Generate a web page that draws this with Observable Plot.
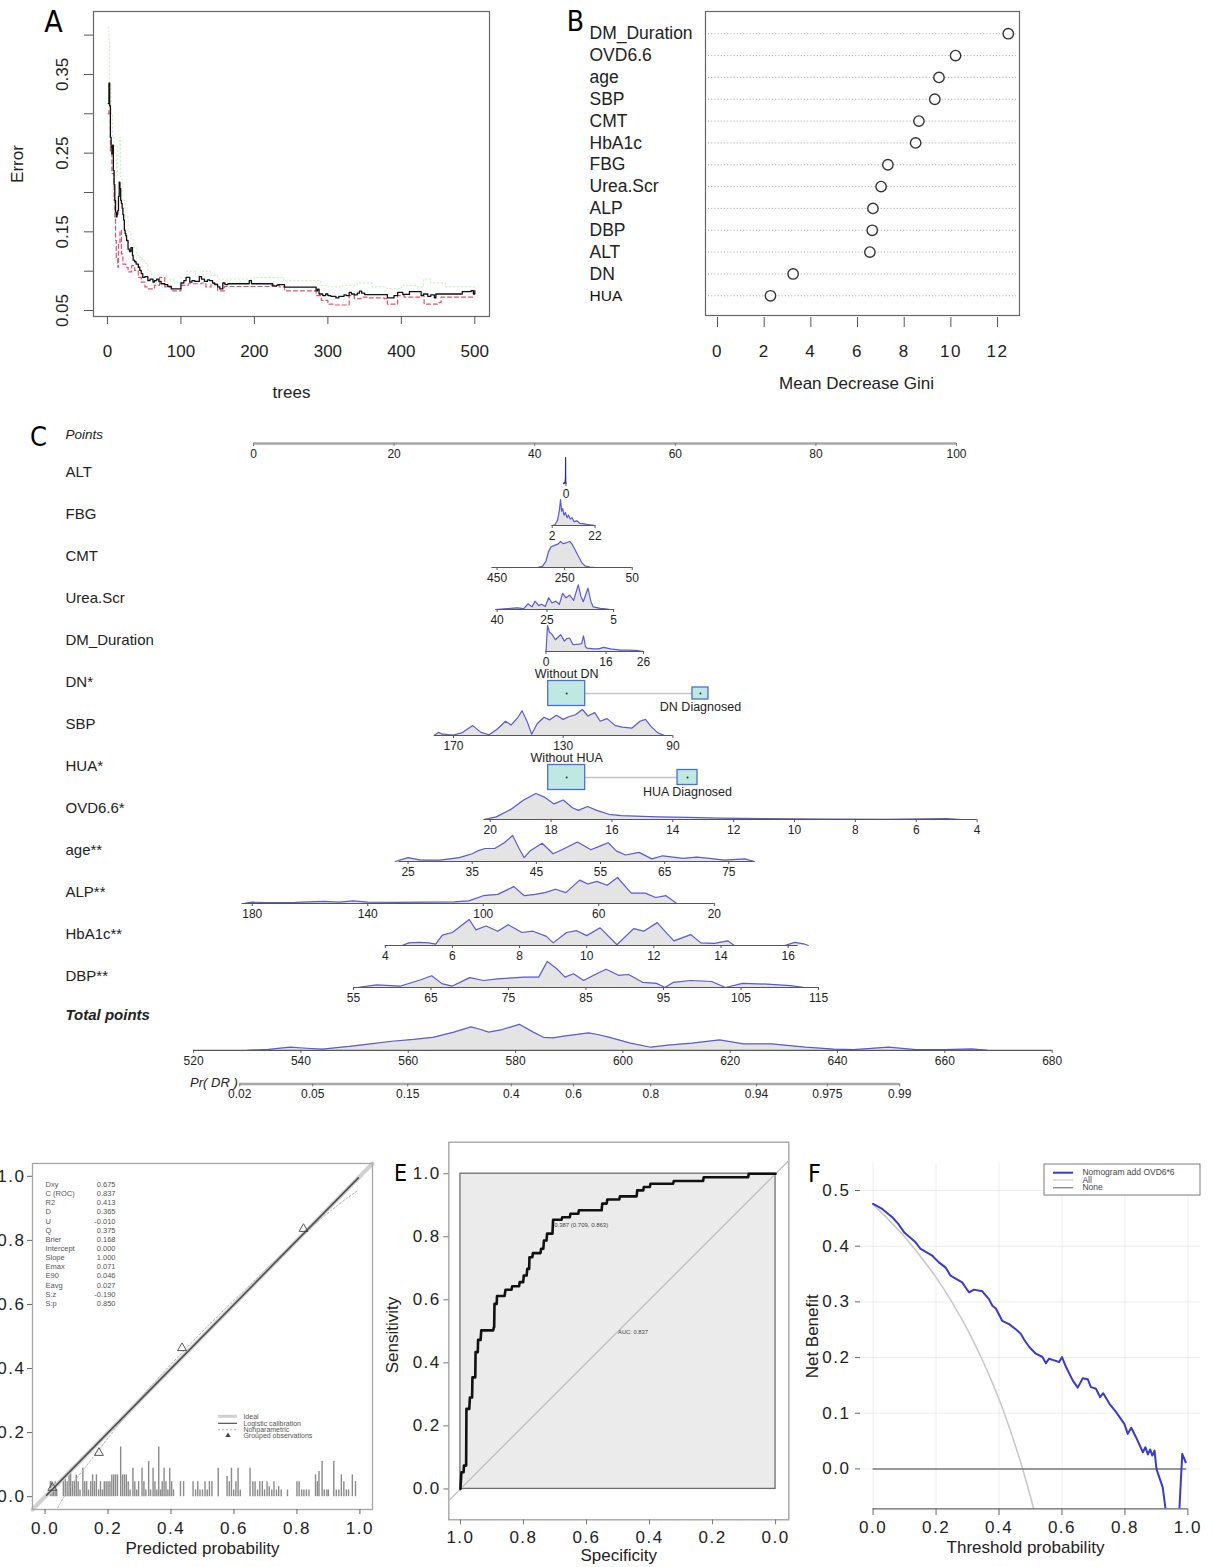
<!DOCTYPE html>
<html>
<head>
<meta charset="utf-8">
<script src="https://cdn.jsdelivr.net/npm/d3@7"></script>
<script src="https://cdn.jsdelivr.net/npm/@observablehq/plot@0.6"></script>
<style>
html,body{margin:0;padding:0;background:#fff;}
#fig{position:relative;width:1213px;height:1567px;overflow:hidden;background:#fff;}
#fig svg{position:absolute;overflow:visible;max-width:none;}
.spaced g[aria-label*="tick label"] text, .spaced g[aria-label="title"] text{letter-spacing:1.5px;}
</style>
</head>
<body>
<div id="fig"></div>
<script>
// ================= Panel A : random forest error vs trees =================
const errOOB = [[1,0.313],[2,0.339],[3,0.31],[4,0.27],[5,0.258],[6,0.249],[7,0.26],[8,0.228],[9,0.21],[10,0.19],[11,0.175],[12,0.169],[13,0.172],[14,0.177],[15,0.195],[16,0.213],[17,0.205],[18,0.19],[19,0.186],[20,0.18],[21,0.172],[22,0.165],[23,0.152],[24,0.148],[25,0.145],[26,0.139],[28,0.128],[30,0.125],[32,0.13],[34,0.12],[35,0.114],[37,0.112],[39,0.109],[42,0.105],[44,0.101],[46,0.097],[48,0.092],[51,0.093],[55,0.088],[58,0.09],[62,0.086],[64,0.088],[67,0.09],[70,0.087],[73,0.084],[78,0.083],[82,0.0805],[87,0.0775],[96,0.0775],[100,0.085],[104,0.088],[107,0.092],[112,0.086],[115,0.088],[119,0.087],[125,0.093],[128,0.09],[132,0.087],[136,0.089],[139,0.088],[143,0.085],[146,0.083],[150,0.08],[153,0.0775],[157,0.085],[160,0.083],[164,0.084],[191,0.084],[193,0.088],[196,0.084],[223,0.084],[225,0.081],[230,0.082],[232,0.083],[241,0.0797],[282,0.0797],[284,0.075],[286,0.077],[288,0.071],[293,0.069],[297,0.071],[300,0.069],[304,0.068],[311,0.066],[315,0.068],[318,0.068],[322,0.07],[325,0.069],[329,0.073],[332,0.071],[336,0.07],[340,0.072],[343,0.0746],[346,0.072],[350,0.0703],[379,0.0703],[381,0.066],[390,0.069],[395,0.073],[402,0.0705],[406,0.0705],[411,0.074],[424,0.074],[427,0.069],[430,0.071],[436,0.068],[440,0.07],[445,0.066],[447,0.071],[481,0.071],[483,0.074],[490,0.074],[495,0.0754],[498,0.071],[500,0.0754]];
const errClass1 = [[1,0.30],[2,0.304],[4,0.253],[6,0.224],[9,0.19],[10,0.169],[11,0.139],[12,0.116],[14,0.105],[15,0.135],[17,0.152],[19,0.122],[21,0.109],[25,0.105],[28,0.099],[33,0.107],[37,0.101],[42,0.092],[46,0.086],[51,0.08],[55,0.0775],[64,0.082],[71,0.092],[78,0.08],[87,0.075],[100,0.082],[110,0.084],[128,0.085],[134,0.08],[141,0.084],[150,0.075],[159,0.0805],[223,0.082],[234,0.08],[241,0.075],[282,0.075],[284,0.069],[291,0.063],[300,0.058],[309,0.057],[322,0.057],[329,0.069],[336,0.065],[345,0.067],[354,0.066],[377,0.065],[381,0.058],[388,0.058],[395,0.069],[404,0.067],[427,0.069],[431,0.058],[445,0.058],[449,0.06],[454,0.067],[500,0.067]];
const errClass2 = [[1,0.41],[2,0.39],[3,0.34],[5,0.30],[7,0.27],[9,0.25],[12,0.22],[14,0.26],[16,0.27],[18,0.22],[20,0.19],[24,0.17],[28,0.15],[32,0.14],[36,0.13],[40,0.12],[45,0.115],[50,0.11],[55,0.10],[60,0.095],[70,0.095],[80,0.09],[90,0.085],[100,0.092],[108,0.1],[120,0.095],[130,0.1],[140,0.095],[150,0.09],[160,0.09],[200,0.092],[240,0.088],[280,0.088],[290,0.082],[300,0.08],[320,0.082],[340,0.085],[360,0.08],[380,0.078],[400,0.082],[420,0.08],[430,0.09],[440,0.085],[460,0.08],[500,0.08]];
const treeTicks = [0,100,200,300,400,500];
const errTicks = [0.05,0.10,0.15,0.20,0.25,0.30,0.35,0.40];
const errLabels = [0.05,0.15,0.25,0.35];

// ================= Panel B : variable importance =================
const giniVars = ["DM_Duration","OVD6.6","age","SBP","CMT","HbA1c","FBG","Urea.Scr","ALP","DBP","ALT","DN","HUA"];
const giniVals = [12.46,10.2,9.49,9.31,8.63,8.49,7.3,7.01,6.66,6.63,6.53,3.24,2.27];
const giniTicks = [0,2,4,6,8,10,12];

// ================= Panel C : nomogram =================
const nomoLabels = ["ALT","FBG","CMT","Urea.Scr","DM_Duration","DN*","SBP","HUA*","OVD6.6*","age**","ALP**","HbA1c**","DBP**"];
const pointsTicks = [0,20,40,60,80,100];
const altTicks = [0], altEnds = [0,150], altEndPts = [44.45,44.1];
const altDens = [[0,0],[8,0.05],[15,0.12],[20,0.35],[24,1.0],[28,0.45],[35,0.2],[50,0.08],[80,0.04],[120,0.02],[150,0]];
const fbgTicks = [2,22], fbgEndPts = [42.49,48.58], fbgExtent = [2,22];
const fbgDens = [[2,0],[3.3,0.03],[4.5,0.2],[5.4,0.6],[5.9,1.0],[6.4,0.55],[6.9,0.65],[7.5,0.4],[8.2,0.5],[8.9,0.3],[9.6,0.4],[10.4,0.25],[11.2,0.3],[12.2,0.15],[13.5,0.18],[15,0.08],[17,0.06],[19,0.03],[22,0]];
const cmtTicks = [450,250,50], cmtEndPts = [34.65,53.87], cmtExtent = [465,50];
const cmtDens = [[330,0],[315,0.05],[305,0.25],[298,0.6],[290,0.8],[280,0.85],[270,0.9],[262,1.0],[255,0.92],[245,0.95],[235,1.0],[228,0.9],[220,0.7],[210,0.45],[200,0.2],[190,0.06],[175,0.02],[160,0]];
const ureaTicks = [40,25,5], ureaEndPts = [34.65,51.22], ureaExtent = [40,5];
const ureaDens = [[40.5,0],[37,0.03],[34,0.06],[32,0.03],[30.7,0.22],[29.5,0.1],[28.6,0.32],[27.5,0.15],[26.7,0.2],[25.5,0.12],[24.5,0.45],[23.5,0.25],[22.4,0.32],[21.3,0.2],[20.3,0.62],[19.3,0.45],[18.2,0.55],[17,0.35],[15.6,0.95],[14.8,0.5],[14.1,0.3],[12.7,0.82],[11.8,0.3],[11.1,0.1],[9,0.04],[8,0.03],[6,0]];
const dmTicks = [0,16,26], dmEndPts = [41.61,55.48], dmExtent = [0,26];
const dmDens = [[0,0],[0.2,0.5],[0.4,1.0],[0.9,0.75],[1.65,0.65],[2.5,0.45],[3.2,0.55],[3.9,0.65],[4.9,0.4],[5.6,0.5],[6.3,0.52],[7.2,0.26],[8.7,0.28],[9.5,0.3],[10,0.6],[10.5,0.2],[10.9,0.13],[12.7,0.1],[14,0.1],[15.4,0.16],[17.2,0.1],[20,0.05],[22,0.05],[24.7,0.03],[26,0]];
const dnLevels = ["Without DN","DN Diagnosed"], dnPts = [44.55,63.58];
const sbpTicks = [170,130,90], sbpEndPts = [28.45,59.66], sbpExtent = [177,90];
const sbpDens = [[177,0],[175.5,0.12],[174,0.05],[170,0.02],[167,0.1],[163,0.38],[160,0.12],[157,0.03],[154,0.25],[151,0.55],[149,0.4],[146.5,0.7],[145,0.95],[143,0.5],[141.5,0.05],[139.5,0.45],[137,0.7],[135,0.6],[132.5,0.78],[130,0.62],[128,0.72],[125.5,0.8],[123,1.0],[121,0.75],[118.5,0.88],[116.5,0.55],[114,0.65],[111,0.38],[108.5,0.32],[105,0.28],[102,0.55],[100,0.62],[98,0.35],[95.5,0.1],[93,0]];
const huaLevels = ["Without HUA","HUA Diagnosed"], huaPts = [44.55,61.74];
const ovdTicks = [20,18,16,14,12,10,8,6,4], ovdEndPts = [33.67,102.93], ovdExtent = [20.2,4];
const ovdDens = [[20.2,0],[19.8,0.1],[19.3,0.4],[18.9,0.75],[18.5,1.0],[18.2,0.85],[17.9,0.6],[17.6,0.75],[17.3,0.45],[17.1,0.35],[16.8,0.5],[16.5,0.35],[16.1,0.2],[15.7,0.15],[15.0,0.12],[14.5,0.1],[13.5,0.08],[12.5,0.05],[11,0.03],[9,0.02],[7,0.01],[5,0.03],[4.5,0]];
const ageTicks = [25,35,45,55,65,75], ageEndPts = [21.99,67.61], ageExtent = [23.6,79];
const ageDens = [[23,0],[25,0.15],[27,0.05],[30,0.05],[33,0.15],[35,0.3],[36,0.42],[37,0.5],[38.5,0.5],[40,0.72],[41.3,1.0],[42.3,0.5],[43.1,0.15],[44,0.4],[45.9,0.7],[47.6,0.3],[49,0.45],[51.4,0.75],[53.5,0.45],[55,0.6],[56.2,0.72],[57.5,0.4],[58.9,0.25],[61,0.35],[63,0.1],[64.7,0.22],[67.9,0.12],[70,0.17],[72,0.12],[74.3,0.05],[77.5,0.1],[79,0]];
const alpTicks = [180,140,100,60,20], alpEndPts = [-0.18,65.55], alpExtent = [183.5,20];
const alpDens = [[183,0],[180,0.05],[175,0.03],[165,0.04],[155,0.08],[150,0.05],[145,0.1],[140,0.05],[130,0.04],[120,0.05],[110,0.06],[105,0.1],[100,0.3],[95,0.35],[89.4,0.65],[85.8,0.3],[82,0.35],[78.6,0.42],[75,0.55],[71.4,0.42],[66.6,0.9],[63.8,0.75],[60.7,0.85],[57.1,0.7],[53.5,1.0],[50,0.55],[48.7,0.4],[43.9,0.4],[40.3,0.23],[36.7,0.3],[33,0]];
const hbTicks = [4,6,8,10,12,14,16], hbEndPts = [18.75,76.05], hbExtent = [4,16.3];
const hbDens = [[4.5,0],[4.7,0.1],[5.0,0.12],[5.3,0.1],[5.5,0.05],[5.7,0.4],[6.0,0.5],[6.5,1.0],[6.7,0.6],[7.0,0.75],[7.35,0.55],[7.66,0.8],[8.07,0.5],[8.4,0.55],[8.8,0.35],[9.0,0.1],[9.4,0.5],[9.7,0.57],[10.0,0.38],[10.4,0.68],[10.9,0.03],[11.4,0.65],[11.7,0.55],[12.1,0.88],[12.4,0.45],[12.6,0.18],[13.1,0.42],[13.4,0.1],[13.8,0.08],[14.2,0.18],[14.4,0],[15.9,0],[16.2,0.12],[16.5,0.05],[16.6,0]];
const dbpTicks = [55,65,75,85,95,105,115], dbpEndPts = [14.22,80.37], dbpExtent = [55,115];
const dbpDens = [[55.5,0],[58,0.1],[61,0.05],[63.7,0.3],[65.1,0.45],[66.4,0.15],[67.7,0.05],[70,0.38],[71.8,0.27],[73.6,0.33],[77.1,0.4],[78.9,0.4],[80,1.0],[81.2,0.73],[82.3,0.4],[83.4,0.53],[84.7,0.27],[86,0.47],[87.6,0.7],[89.2,0.47],[90.5,0.5],[92.3,0.2],[94.1,0.16],[95.2,0],[96.3,0.2],[98.5,0.27],[101.2,0.23],[103,0],[105.2,0.16],[108.3,0.13],[111.4,0.07],[113.2,0]];
const totalTicks = [520,540,560,580,600,620,640,660,680], totalEndPts = [-8.52,113.61];
const totalDens = [[530,0],[534,0.04],[538,0.12],[541,0.08],[544,0.05],[549,0.15],[553,0.25],[557,0.35],[561,0.42],[564.6,0.5],[568.5,0.7],[571.7,0.9],[573.5,0.8],[575,0.7],[577.5,0.8],[580.7,1.0],[583.3,0.7],[585.2,0.5],[587,0.48],[589,0.55],[593.6,0.67],[595.5,0.6],[597.5,0.5],[601.4,0.28],[605.2,0.12],[608.4,0.2],[612.9,0.28],[618,0.4],[622.5,0.25],[627.7,0.25],[634,0.12],[639.3,0.05],[643,0.03],[649.5,0.12],[654.6,0.03],[660,0.03],[665,0.06],[668,0]];
const prTicks = [0.02,0.05,0.15,0.4,0.6,0.8,0.94,0.975,0.99];
const prTotal = [528.6,542.2,559.9,579.2,590.8,605.2,624.9,638.1,651.6];

// ================= Panel D : calibration =================
const calRug = [[0.017,0.047],[0.022,0.047],[0.027,0.021],[0.032,0.047],[0.037,0.021],[0.058,0.047],[0.064,0.063],[0.07,0.047],[0.076,0.068],[0.081,0.089],[0.087,0.047],[0.093,0.047],[0.099,0.068],[0.105,0.047],[0.111,0.021],[0.12,0.089],[0.126,0.047],[0.132,0.047],[0.138,0.021],[0.145,0.047],[0.151,0.068],[0.157,0.047],[0.163,0.068],[0.17,0.021],[0.176,0.047],[0.182,0.021],[0.188,0.047],[0.194,0.047],[0.2,0.047],[0.206,0.047],[0.212,0.068],[0.218,0.068],[0.224,0.068],[0.23,0.068],[0.24,0.155],[0.246,0.068],[0.252,0.068],[0.258,0.068],[0.264,0.047],[0.27,0.021],[0.279,0.089],[0.285,0.047],[0.291,0.021],[0.297,0.047],[0.308,0.089],[0.314,0.047],[0.32,0.021],[0.329,0.11],[0.335,0.021],[0.343,0.089],[0.349,0.047],[0.355,0.021],[0.361,0.155],[0.367,0.021],[0.372,0.047],[0.378,0.089],[0.384,0.047],[0.39,0.021],[0.396,0.089],[0.402,0.047],[0.408,0.021],[0.43,0.047],[0.44,0.047],[0.47,0.047],[0.478,0.021],[0.485,0.047],[0.492,0.021],[0.5,0.021],[0.508,0.047],[0.515,0.021],[0.522,0.047],[0.53,0.047],[0.55,0.089],[0.578,0.063],[0.585,0.047],[0.592,0.089],[0.599,0.021],[0.606,0.047],[0.613,0.089],[0.62,0.021],[0.651,0.089],[0.66,0.047],[0.667,0.047],[0.675,0.021],[0.682,0.047],[0.69,0.047],[0.697,0.021],[0.705,0.047],[0.712,0.031],[0.72,0.021],[0.727,0.047],[0.735,0.021],[0.742,0.031],[0.75,0.021],[0.77,0.021],[0.8,0.047],[0.807,0.047],[0.815,0.021],[0.822,0.021],[0.83,0.021],[0.838,0.021],[0.859,0.068],[0.865,0.047],[0.87,0.079],[0.88,0.11],[0.887,0.021],[0.895,0.021],[0.9,0.021],[0.917,0.11],[0.925,0.021],[0.933,0.021],[0.941,0.068],[0.949,0.047],[0.957,0.021],[0.964,0.021],[0.976,0.068],[0.986,0.047]];
const calLogistic = [[0.005,0.005],[0.995,0.995]];
const calNonpar = [[0.04,-0.035],[0.08,0.03],[0.15,0.12],[0.25,0.245],[0.35,0.36],[0.45,0.465],[0.55,0.565],[0.65,0.66],[0.75,0.755],[0.85,0.845],[0.93,0.91],[0.994,0.956]];
const calGroups = [[0.023,0.028],[0.171,0.137],[0.435,0.464],[0.821,0.836]];
const calStatNames = ["Dxy","C (ROC)","R2","D","U","Q","Brier","Intercept","Slope","Emax","E90","Eavg","S:z","S:p"];
const calStatVals = ["0.675","0.837","0.413","0.365","-0.010","0.375","0.168","0.000","1.000","0.071","0.046","0.027","-0.190","0.850"];
const calLegend = ["Ideal","Logistic calibration","Nonparametric","Grouped observations"];

// ================= Panel E : ROC =================
const rocSpec = [1.0,0.997,0.99,0.989,0.982,0.981,0.972,0.97,0.963,0.962,0.953,0.952,0.945,0.944,0.936,0.934,0.896,0.894,0.893,0.892,0.885,0.884,0.86,0.857,0.838,0.836,0.814,0.812,0.801,0.799,0.79,0.788,0.782,0.781,0.772,0.77,0.746,0.744,0.737,0.735,0.727,0.725,0.708,0.706,0.679,0.677,0.653,0.651,0.626,0.624,0.552,0.55,0.536,0.534,0.496,0.494,0.441,0.439,0.42,0.418,0.399,0.397,0.325,0.323,0.23,0.228,0.087,0.085,0.0];
const rocSens = [0.0,0.053,0.053,0.074,0.074,0.254,0.254,0.29,0.29,0.354,0.354,0.434,0.434,0.473,0.473,0.503,0.503,0.513,0.513,0.587,0.587,0.612,0.612,0.632,0.632,0.643,0.643,0.656,0.656,0.677,0.677,0.698,0.698,0.735,0.735,0.748,0.748,0.762,0.762,0.788,0.788,0.81,0.81,0.854,0.854,0.862,0.862,0.873,0.873,0.884,0.884,0.905,0.905,0.918,0.918,0.928,0.928,0.947,0.947,0.958,0.958,0.968,0.968,0.977,0.977,0.989,0.989,1.0,1.0];
const rocBest = {thr:"0.387", spec:0.709, sens:0.863};
const rocAUC = "0.837";
const ticks01 = [0,0.2,0.4,0.6,0.8,1.0];

// ================= Panel F : decision curve =================
const nbModel = [[0,0.476],[0.029,0.467],[0.061,0.452],[0.08,0.44],[0.1,0.424],[0.135,0.407],[0.151,0.395],[0.17,0.389],[0.188,0.383],[0.209,0.371],[0.23,0.362],[0.246,0.347],[0.265,0.341],[0.283,0.335],[0.295,0.325],[0.305,0.317],[0.32,0.322],[0.347,0.319],[0.368,0.305],[0.379,0.293],[0.39,0.288],[0.41,0.266],[0.432,0.26],[0.453,0.251],[0.469,0.243],[0.48,0.232],[0.496,0.219],[0.517,0.207],[0.538,0.201],[0.549,0.19],[0.559,0.198],[0.575,0.195],[0.591,0.192],[0.6,0.201],[0.613,0.183],[0.634,0.159],[0.65,0.146],[0.666,0.163],[0.682,0.161],[0.692,0.147],[0.708,0.144],[0.721,0.129],[0.731,0.136],[0.751,0.117],[0.772,0.102],[0.798,0.081],[0.809,0.063],[0.82,0.074],[0.835,0.057],[0.857,0.03],[0.865,0.039],[0.873,0.026],[0.88,0.035],[0.887,0.024],[0.894,0.033],[0.9,0.0],[0.92,-0.033],[0.929,-0.072],[0.94,-0.2],[0.965,-0.2],[0.973,-0.072],[0.982,0.027],[0.993,0.012]];
const nbAll = [[0,0.475],[0.05,0.447],[0.1,0.417],[0.15,0.382],[0.2,0.344],[0.25,0.30],[0.3,0.25],[0.325,0.222],[0.35,0.192],[0.375,0.16],[0.4,0.125],[0.425,0.087],[0.45,0.045],[0.475,0.0],[0.5,-0.05],[0.52,-0.094]];
const nbNone = [[0,0],[0.993,0]];
const dcaLegend = ["Nomogram add OVD6*6","All","None"];
const dcaTicksX = [0,0.2,0.4,0.6,0.8,1.0];
const dcaTicksY = [0,0.1,0.2,0.3,0.4,0.5];

// ================= drawing =================
const SANS = "'Liberation Sans', Arial, Helvetica, sans-serif";
const NARROW = "'Liberation Sans Narrow', 'DejaVu Sans Condensed', 'Arial Narrow', sans-serif";
const fig = document.getElementById("fig");
function place(svg, left, top, spaced) {
  svg.style.left = left + "px"; svg.style.top = top + "px";
  if (spaced) svg.classList.add("spaced");
  fig.appendChild(svg);
}
const baseStyle = (size) => ({fontFamily: SANS, fontSize: size + "px", color: "#222", overflow: "visible", maxWidth: "none"});
const MID = {lineAnchor: "middle", textAnchor: "middle"};

// ---- A ----
const xA = [-19, 520], yA = [0.0424, 0.43];
place(Plot.plot({
  width: 520, height: 410, marginLeft: 93, marginRight: 31, marginTop: 11, marginBottom: 94,
  x: {domain: xA, label: null}, y: {domain: yA, label: null},
  style: baseStyle(17),
  marks: [
    Plot.line(errClass2, {x: d => d[0], y: d => d[1], stroke: "#61D04F", strokeOpacity: 0.35, strokeWidth: 1, strokeDasharray: "1.5,2.5", curve: "step-after", clip: true}),
    Plot.line(errClass1, {x: d => d[0], y: d => d[1], stroke: "#DF536B", strokeWidth: 1.2, strokeDasharray: "4,3", curve: "step-after", clip: true}),
    Plot.line(errOOB, {x: d => d[0], y: d => d[1], stroke: "#111", strokeWidth: 1.3, curve: "step-after", clip: true}),
    Plot.frame({stroke: "#666", strokeWidth: 1.2}),
    Plot.axisY(errTicks, {tickSize: 9, tickFormat: () => "", stroke: "#555"}),
    Plot.text(errLabels, {x: xA[0], y: d => d, text: d => d.toFixed(2), rotate: -90, dx: -31, fontSize: 17}),
    Plot.axisX(treeTicks, {tickSize: 8, tickPadding: 20, fontSize: 17, stroke: "#555"}),
    Plot.text(["trees"], {frameAnchor: "bottom", dy: 76, fontSize: 17, ...MID}),
    Plot.text(["Error"], {frameAnchor: "left", dx: -76, rotate: -90, fontSize: 17, ...MID}),
    Plot.text(["A"], {frameAnchor: "top-left", dx: -40, dy: 11, fontSize: 30, fontFamily: NARROW, fill: "#000", ...MID})
  ]
}), 0, 0);

// ---- B ----
const xB = [-0.514, 12.94];
const giniData = giniVars.map((v, i) => ({v, g: giniVals[i]}));
place(Plot.plot({
  width: 480, height: 400, marginLeft: 145, marginRight: 21, marginTop: 11, marginBottom: 85,
  x: {domain: xB, label: null},
  y: {type: "point", domain: giniVars, padding: 0.96, align: 0.53, round: false, axis: null, label: null},
  style: baseStyle(17),
  marks: [
    Plot.ruleY(giniVars, {y: d => d, stroke: "#8a8a8a", strokeWidth: 0.8, strokeDasharray: "1,2.2", insetLeft: 3, insetRight: 3}),
    Plot.dot(giniData, {x: "g", y: "v", r: 5.2, stroke: "#333", strokeWidth: 1.4, fill: "white"}),
    Plot.frame({stroke: "#666", strokeWidth: 1.2}),
    Plot.text(giniData.filter(d => d.v !== "HUA"), {x: xB[0], y: "v", text: "v", dx: -116, textAnchor: "start", fontSize: 17.5, fill: "#222"}),
    Plot.text(giniData.filter(d => d.v === "HUA"), {x: xB[0], y: "v", text: "v", dx: -116, textAnchor: "start", fontSize: 15.5, fill: "#111"}),
    Plot.axisX(giniTicks, {tickSize: 10, dy: 2, tickPadding: 17, fontSize: 17, stroke: "#555"}),
    Plot.text(["Mean Decrease Gini"], {frameAnchor: "bottom", dy: 68, dx: -6, fontSize: 17, ariaLabel: "title", ...MID}),
    Plot.text(["B"], {frameAnchor: "top-left", dx: -130, dy: 11, fontSize: 28, fontFamily: NARROW, fill: "#000", ...MID})
  ]
}), 560, 0, true);

// ---- C ----
const X0 = 253, X100 = 956, ROW0 = 56.5, ROWPX = 42;
const pxPerPt = (X100 - X0) / 100;
const AXO = 11.5 / ROWPX, HMAX = 26 / ROWPX, TICK = 3 / ROWPX;
const BLUE = "#5b5bd6", DENSFILL = "#e4e4e4";
const contVars = [
  {row: 0, ticks: altTicks, ends: altEnds, endPts: altEndPts, extent: altEnds, dens: altDens, dark: true},
  {row: 1, ticks: fbgTicks, endPts: fbgEndPts, extent: fbgExtent, dens: fbgDens},
  {row: 2, ticks: cmtTicks, endPts: cmtEndPts, extent: cmtExtent, dens: cmtDens},
  {row: 3, ticks: ureaTicks, endPts: ureaEndPts, extent: ureaExtent, dens: ureaDens},
  {row: 4, ticks: dmTicks, endPts: dmEndPts, extent: dmExtent, dens: dmDens},
  {row: 6, ticks: sbpTicks, endPts: sbpEndPts, extent: sbpExtent, dens: sbpDens},
  {row: 8, ticks: ovdTicks, endPts: ovdEndPts, extent: ovdExtent, dens: ovdDens},
  {row: 9, ticks: ageTicks, endPts: ageEndPts, extent: ageExtent, dens: ageDens},
  {row: 10, ticks: alpTicks, endPts: alpEndPts, extent: alpExtent, dens: alpDens},
  {row: 11, ticks: hbTicks, endPts: hbEndPts, extent: hbExtent, dens: hbDens},
  {row: 12, ticks: dbpTicks, endPts: dbpEndPts, extent: dbpExtent, dens: dbpDens}
];
function contMarks(v) {
  const ends = v.ends || [v.ticks[0], v.ticks[v.ticks.length - 1]];
  const m = d3.scaleLinear(ends, v.endPts);
  const ya = v.row + AXO;
  return [
    Plot.areaY(v.dens, {x: d => m(d[0]), y1: ya, y2: d => ya - d[1] * HMAX, fill: DENSFILL}),
    Plot.line(v.dens, {x: d => m(d[0]), y: d => ya - d[1] * HMAX, stroke: v.dark ? "#2a2a9a" : BLUE, strokeWidth: 1.2}),
    Plot.ruleY([ya], {x1: m(v.extent[0]), x2: m(v.extent[1]), stroke: "#555", strokeWidth: 1.2}),
    Plot.ruleX(v.ticks, {x: d => m(d), y1: ya, y2: ya + TICK, stroke: "#555"}),
    Plot.text(v.ticks, {x: d => m(d), y: ya, dy: 11, text: d => String(d), fontSize: 12, fill: "#222"})
  ];
}
function catMarks(row, levels, pts, sizes, dyLow) {
  const ya = row + AXO;
  const recs = levels.map((l, i) => ({l, p: pts[i], w: sizes[i][0], h: sizes[i][1]}));
  return [
    Plot.ruleY([ya], {x1: recs[0].p + recs[0].w / 2 / pxPerPt, x2: recs[1].p - recs[1].w / 2 / pxPerPt, stroke: "#c4c4c4", strokeWidth: 1.3}),
    Plot.rect(recs, {x1: d => d.p - d.w / 2 / pxPerPt, x2: d => d.p + d.w / 2 / pxPerPt, y1: d => ya - d.h / 2 / ROWPX, y2: d => ya + d.h / 2 / ROWPX, fill: "#bfe8e2", stroke: "#4b6fd6", strokeWidth: 1.3}),
    Plot.dot(recs, {x: "p", y: ya, r: 1, fill: "#333"}),
    Plot.text([recs[0]], {x: "p", y: ya, dy: -20, text: "l", fontSize: 12.5, fill: "#222"}),
    Plot.text([recs[1]], {x: "p", y: ya, dy: dyLow, text: "l", fontSize: 12.5, fill: "#222"})
  ];
}
const mTot = d3.scaleLinear([totalTicks[0], totalTicks[totalTicks.length - 1]], totalEndPts);
const ptsRow = -0.893, ptsAxis = -0.679, totRow = 12.94, totAxis = 13.77, prAxis = 14.57;
const labelRows = nomoLabels.map((name, row) => ({name, row}));
place(Plot.plot({
  width: 1080, height: 700, marginLeft: 0, marginRight: 0, marginTop: 0, marginBottom: 0,
  x: {domain: [0, 100], range: [X0, X100], axis: null, label: null},
  y: {domain: [0, 12], range: [ROW0, ROW0 + 12 * ROWPX], axis: null, label: null},
  style: baseStyle(12),
  marks: [
    Plot.ruleY([ptsAxis], {x1: pointsTicks[0], x2: pointsTicks[pointsTicks.length - 1], stroke: "#a8a8a8", strokeWidth: 2.4}),
    Plot.ruleX(pointsTicks, {x: d => d, y1: ptsAxis, y2: ptsAxis + TICK, stroke: "#777"}),
    Plot.text(pointsTicks, {x: d => d, y: ptsAxis, dy: 11, text: d => String(d), fontSize: 12}),
    ...contVars.flatMap(contMarks),
    ...catMarks(5, dnLevels, dnPts, [[37, 25], [16, 12]], 13),
    ...catMarks(7, huaLevels, huaPts, [[37, 25], [20, 15]], 14),
    Plot.areaY(totalDens, {x: d => mTot(d[0]), y1: totAxis, y2: d => totAxis - d[1] * HMAX, fill: DENSFILL}),
    Plot.line(totalDens, {x: d => mTot(d[0]), y: d => totAxis - d[1] * HMAX, stroke: BLUE, strokeWidth: 1.2}),
    Plot.ruleY([totAxis], {x1: mTot(totalTicks[0]), x2: mTot(totalTicks[totalTicks.length - 1]), stroke: "#555", strokeWidth: 1.2}),
    Plot.ruleX(totalTicks, {x: d => mTot(d), y1: totAxis, y2: totAxis + TICK, stroke: "#555"}),
    Plot.text(totalTicks, {x: d => mTot(d), y: totAxis, dy: 11, text: d => String(d), fontSize: 12}),
    Plot.ruleY([prAxis], {x1: mTot(prTotal[0]), x2: mTot(prTotal[prTotal.length - 1]), stroke: "#a8a8a8", strokeWidth: 2.4}),
    Plot.ruleX(prTotal, {x: d => mTot(d), y1: prAxis, y2: prAxis + TICK, stroke: "#777"}),
    Plot.text(prTicks, {x: (d, i) => mTot(prTotal[i]), y: prAxis, dy: 10, text: d => String(d), fontSize: 12}),
    Plot.text(["Pr( DR )"], {x: mTot(prTotal[0]), y: prAxis, dx: -2, dy: -1, textAnchor: "end", fontStyle: "italic", fontSize: 13}),
    Plot.text(labelRows, {frameAnchor: "left", dx: 65, y: "row", text: "name", textAnchor: "start", lineAnchor: "middle", fontSize: 15, fill: "#222"}),
    Plot.text(["Points"], {frameAnchor: "left", dx: 65, y: ptsRow, textAnchor: "start", lineAnchor: "middle", fontSize: 13.5, fontStyle: "italic"}),
    Plot.text(["Total points"], {frameAnchor: "left", dx: 65, y: totRow, textAnchor: "start", lineAnchor: "middle", fontSize: 15, fontStyle: "italic", fontWeight: "bold"}),
    Plot.text(["C"], {frameAnchor: "top-left", dx: 38, dy: 22, fontSize: 27, fontFamily: NARROW, fill: "#000", ...MID})
  ]
}), 0, 415);

// ---- D ----
const xD = [-0.04, 1.04];
place(Plot.plot({
  width: 390, height: 437, marginLeft: 32, marginRight: 18, marginTop: 33, marginBottom: 58,
  x: {domain: xD, label: null}, y: {domain: xD, label: null},
  style: baseStyle(17),
  marks: [
    Plot.ruleX(calRug, {x: d => d[0], y1: 0, y2: d => d[1], stroke: "#8a8a8a", strokeWidth: 1.4}),
    Plot.line(xD, {x: d => d, y: d => d, stroke: "#d0d0d0", strokeWidth: 4}),
    Plot.line(calNonpar, {x: d => d[0], y: d => d[1], stroke: "#b5b5b5", strokeWidth: 1, strokeDasharray: "2,2", curve: "natural", clip: true}),
    Plot.line(calLogistic, {x: d => d[0], y: d => d[1], stroke: "#505050", strokeWidth: 1.6}),
    Plot.dot(calGroups, {x: d => d[0], y: d => d[1], symbol: "triangle", r: 3.3, stroke: "#444", strokeWidth: 0.9, fill: "none"}),
    Plot.frame({stroke: "#a5a5a5", strokeWidth: 1.3}),
    Plot.axisY(ticks01, {tickSize: 5, tickPadding: 2, tickFormat: ".1f", fontSize: 17, stroke: "#666"}),
    Plot.axisX(ticks01, {tickSize: 5, tickPadding: 7, tickFormat: ".1f", fontSize: 17, stroke: "#666"}),
    Plot.text(["Predicted probability"], {frameAnchor: "bottom", dy: 39, fontSize: 17, ariaLabel: "title", ...MID}),
    Plot.text([calStatNames.join("\n")], {frameAnchor: "top-left", dx: 13, dy: 17, lineAnchor: "top", lineHeight: 1.22, textAnchor: "start", fontSize: 7.5, fill: "#555"}),
    Plot.text([calStatVals.join("\n")], {frameAnchor: "top-left", dx: 83, dy: 17, lineAnchor: "top", lineHeight: 1.22, textAnchor: "end", fontSize: 7.5, fill: "#555"}),
    Plot.ruleY([0.251], {x1: 0.551, x2: 0.611, stroke: "#d0d0d0", strokeWidth: 3}),
    Plot.ruleY([0.229], {x1: 0.551, x2: 0.611, stroke: "#505050", strokeWidth: 1.2}),
    Plot.ruleY([0.209], {x1: 0.551, x2: 0.611, stroke: "#b5b5b5", strokeWidth: 1, strokeDasharray: "2,2"}),
    Plot.dot([0.191], {x: 0.581, y: d => d, symbol: "triangle", r: 2, fill: "#444"}),
    Plot.text(calLegend, {x: 0.63, y: (d, i) => [0.251, 0.229, 0.209, 0.191][i], text: d => d, textAnchor: "start", fontSize: 7, fill: "#555"})
  ]
}), 0, 1130, true);

// ---- E ----
const xE = [1.037, -0.042], yE = [-0.098, 1.1];
const rocData = rocSpec.map((s, i) => ({s, e: rocSens[i]}));
place(Plot.plot({
  width: 420, height: 437, marginLeft: 68.3, marginRight: 11.7, marginTop: 11.7, marginBottom: 47.7,
  x: {domain: xE, label: null}, y: {domain: yE, label: null},
  style: baseStyle(17),
  marks: [
    Plot.frame({stroke: "#a0a0a0", strokeWidth: 1.3}),
    Plot.rect([{s1: 1, s2: 0, e1: 0, e2: 1}], {x1: "s1", x2: "s2", y1: "e1", y2: "e2", fill: "#ebebeb", stroke: "#6e6e6e", strokeWidth: 1.3}),
    Plot.line(xE, {x: d => d, y: d => 1 - d, stroke: "#bcbcbc", strokeWidth: 1.2}),
    Plot.line(rocData, {x: "s", y: "e", stroke: "#111", strokeWidth: 2.6}),
    Plot.text([rocBest], {x: "spec", y: "sens", dx: 2, dy: 8, text: d => `${d.thr} (${d.spec.toFixed(3)}, ${d.sens.toFixed(3)})`, textAnchor: "start", fontSize: 6, fill: "#444"}),
    Plot.text([rocAUC], {x: 0.5, y: 0.5, dy: 1, text: d => "AUC: " + d, textAnchor: "start", fontSize: 5.8, fill: "#444"}),
    Plot.axisY(ticks01, {tickSize: 5, tickPadding: 3, tickFormat: ".1f", fontSize: 17, stroke: "#777"}),
    Plot.axisX(ticks01, {tickSize: 5, tickPadding: 6, tickFormat: ".1f", fontSize: 17, stroke: "#777"}),
    Plot.text(["Specificity"], {frameAnchor: "bottom", dy: 36, fontSize: 17, ariaLabel: "title", ...MID}),
    Plot.text(["Sensitivity"], {frameAnchor: "left", dx: -56.6, dy: 4, rotate: -90, fontSize: 17, ariaLabel: "title", ...MID}),
    Plot.text(["E"], {frameAnchor: "top-left", dx: -48.3, dy: 31.6, fontSize: 23, fontFamily: NARROW, fill: "#000", ...MID})
  ]
}), 380, 1130, true);

// ---- F ----
const xF = [-0.04, 1.04], yF = [-0.0716, 0.548];
const FBLUE = "#3a3acb";
place(Plot.plot({
  width: 418, height: 427, marginLeft: 65, marginRight: 13, marginTop: 23.3, marginBottom: 58.7,
  x: {domain: xF, label: null}, y: {domain: yF, label: null},
  style: baseStyle(17),
  marks: [
    Plot.gridX(dcaTicksX, {stroke: "#000", strokeOpacity: 0.07}),
    Plot.gridY(dcaTicksY, {stroke: "#000", strokeOpacity: 0.07}),
    Plot.line(nbAll, {x: d => d[0], y: d => d[1], stroke: "#c9c9c9", strokeWidth: 1.6, curve: "monotone-x", clip: true}),
    Plot.line(nbNone, {x: d => d[0], y: d => d[1], stroke: "#7a7a7a", strokeWidth: 1.4}),
    Plot.line(nbModel, {x: d => d[0], y: d => d[1], stroke: FBLUE, strokeWidth: 2, clip: true}),
    Plot.ruleY([yF[0]], {x1: dcaTicksX[0], x2: dcaTicksX[dcaTicksX.length - 1], stroke: "#666", strokeWidth: 1.3}),
    Plot.axisX(dcaTicksX, {tickSize: 6.7, tickPadding: 5.5, tickFormat: ".1f", fontSize: 17, stroke: "#666"}),
    Plot.axisY(dcaTicksY, {tickSize: 5, tickPadding: 5, tickFormat: ".1f", fontSize: 17, stroke: "#666"}),
    Plot.rect([{}], {x1: 0.5445, x2: 1.04, y1: 0.491, y2: 0.5467, fill: "white", stroke: "#7a7a7a", strokeWidth: 1}),
    Plot.ruleY([0.532], {x1: 0.573, x2: 0.637, stroke: FBLUE, strokeWidth: 2}),
    Plot.ruleY([0.5188], {x1: 0.573, x2: 0.637, stroke: "#c9c9c9", strokeWidth: 1.2}),
    Plot.ruleY([0.505], {x1: 0.573, x2: 0.637, stroke: "#7a7a7a", strokeWidth: 1.2}),
    Plot.text(dcaLegend, {x: 0.665, y: (d, i) => [0.532, 0.5188, 0.505][i], text: d => d, textAnchor: "start", fontSize: 8.5, fill: "#444"}),
    Plot.text(["Threshold probability"], {frameAnchor: "bottom", dy: 38.4, dx: -5, fontSize: 17, ariaLabel: "title", ...MID}),
    Plot.text(["Net Benefit"], {frameAnchor: "left", dx: -48, rotate: -90, fontSize: 17, ariaLabel: "title", ...MID}),
    Plot.text(["F"], {frameAnchor: "top-left", dx: -46, dy: 9.7, fontSize: 25, fontFamily: NARROW, fill: "#000", ...MID})
  ]
}), 795, 1140, true);
</script>
</body>
</html>
